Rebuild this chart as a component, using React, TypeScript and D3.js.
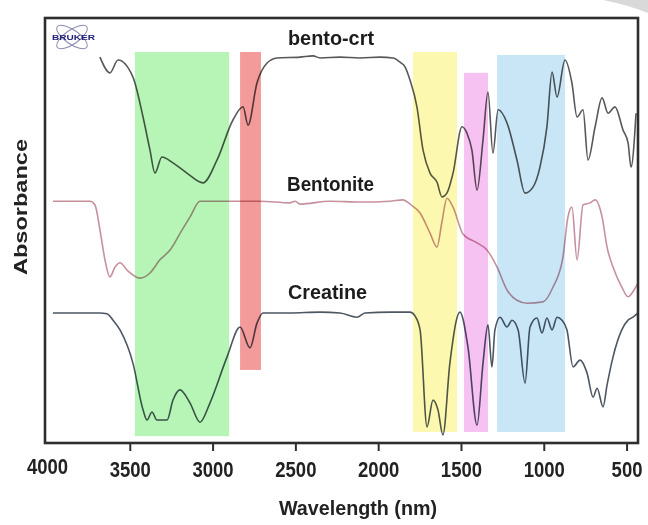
import React from "react";
import * as d3 from "d3";

// ---- data (wavenumber, absorbance in arbitrary stacked units) ----
const bentoCrtWave = [3683,3623,3574,3484,3423,3381,3351,3309,3242,3158,3061,2976,2880,2819,2789,2735,2674,2614,2475,2397,2354,2234,2113,1992,1913,1871,1841,1811,1769,1732,1690,1648,1618,1588,1551,1497,1467,1437,1406,1370,1340,1310,1279,1225,1165,1116,1068,1026,984,953,923,875,833,802,766,736,693,651,615,573,524,494,476,446];
const bentoCrtAbs = [90.8,87.1,90.1,86.1,76.7,68.9,63.5,67.3,65.9,63.5,61.2,66.6,76.0,79.1,74.8,84.7,89.4,90.6,90.8,91.1,90.6,90.8,90.6,90.8,90.6,89.6,88.5,85.4,79.1,68.9,63.5,61.4,57.9,58.8,63.5,74.4,72.9,68.9,59.5,71.3,82.6,68.2,78.4,75.3,66.6,58.8,60.2,64.9,74.4,87.3,81.4,90.1,84.7,76.7,78.4,66.6,74.4,81.2,77.6,79.1,73.6,70.6,64.9,77.6];

const bentoniteWave = [3967,3743,3713,3683,3653,3623,3592,3562,3520,3441,3381,3321,3260,3188,3139,3079,2898,2717,2536,2505,2475,2294,2113,1932,1853,1811,1750,1690,1648,1618,1588,1551,1491,1406,1346,1285,1225,1165,1104,1008,947,887,857,833,802,766,724,693,651,621,585,532,494,458,434];
const bentoniteAbs = [56.9,56.9,56.0,50.1,43.1,39.1,41.4,42.4,40.7,38.8,40.0,43.1,45.4,50.1,53.2,56.9,56.9,56.9,56.5,56.9,56.2,56.9,56.7,56.9,57.2,56.2,54.1,49.4,46.1,52.0,57.6,55.5,49.2,47.1,45.4,41.4,36.0,33.6,32.9,33.2,36.7,43.8,53.2,55.5,43.1,56.0,56.5,57.2,53.2,46.1,41.4,36.7,34.4,36.0,37.6];

const creatineWave = [3967,3804,3683,3641,3604,3562,3484,3423,3399,3369,3339,3278,3242,3200,3139,3079,3019,2916,2837,2777,2735,2699,2536,2354,2234,2131,2083,1932,1811,1781,1750,1708,1672,1642,1612,1570,1509,1461,1406,1370,1340,1316,1298,1267,1225,1195,1158,1116,1086,1044,1014,984,953,923,893,863,826,784,742,705,681,645,621,585,532,494,464,434];
const creatineAbs = [30.6,30.6,30.6,30.4,28.9,26.6,18.8,7.8,5.4,7.3,5.4,5.4,10.1,12.5,9.4,4.9,9.4,20.2,27.3,22.4,28.2,30.6,30.6,30.8,30.6,29.6,30.6,30.8,30.8,29.9,26.6,3.8,10.1,7.8,1.9,18.8,30.8,22.6,4.2,18.8,27.8,17.9,26.6,29.6,27.3,28.9,26.6,14.1,27.3,29.4,25.9,29.4,26.6,29.6,28.9,26.6,17.9,19.5,16.5,10.8,12.9,8.5,13.6,20.2,26.6,28.9,29.6,30.6];

const seriesNames = ["bento-crt", "Bentonite", "Creatine"];
const seriesColors = ["#585858", "#c7909d", "#4d5763"];

// highlighted regions: [from, to] wavenumber, [top, bottom] absorbance
const bandFrom = [3472, 2837, 1793, 1485, 1285];
const bandTo = [2903, 2711, 1527, 1340, 875];
const bandTop = [92.0, 92.0, 92.0, 87.1, 91.3];
const bandBottom = [1.6, 17.2, 2.6, 2.6, 2.6];
const bandColors = ["#b6f5b6", "#f39a9a", "#fdf8b0", "#f6c2f2", "#c9e6f7"];

const xTicks = [4000, 3500, 3000, 2500, 2000, 1500, 1000, 500];

export default function App() {
  const W = 648, H = 525;
  const left = 45, right = 638, top = 18, bottom = 443;
  const x = d3.scaleLinear().domain([4015, 434]).range([left, right]);
  const y = d3.scaleLinear().domain([0, 100]).range([bottom, top]);

  const line = d3
    .line<[number, number]>()
    .x((d) => x(d[0]))
    .y((d) => y(d[1]))
    .curve(d3.curveMonotoneX);

  const series = [
    { w: bentoCrtWave, a: bentoCrtAbs },
    { w: bentoniteWave, a: bentoniteAbs },
    { w: creatineWave, a: creatineAbs },
  ];

  const labelPos = [
    { x: 288, y: 45, len: 86 },
    { x: 287, y: 191, len: 87 },
    { x: 288, y: 299, len: 79 },
  ];

  return (
    <svg
      width={W}
      height={H}
      style={{ position: "absolute", left: 0, top: 0, background: "#fff" }}
      fontFamily="'Liberation Sans', Arial, sans-serif"
    >
      <rect x={0} y={0} width={W} height={H} fill="#fff" />
      {/* page curl in the corner */}
      <path d="M603,0 L648,0 L648,13 Q628,5 603,0 Z" fill="#d9d9d9" />

      {/* spectra */}
      {series.map((s, i) => (
        <path
          key={i}
          d={line(s.w.map((w, j) => [w, s.a[j]] as [number, number])) || ""}
          fill="none"
          stroke={seriesColors[i]}
          strokeWidth={1.6}
          strokeLinejoin="round"
        />
      ))}

      {/* bands, blended over the lines */}
      {bandFrom.map((f, i) => (
        <rect
          key={i}
          x={x(f)}
          y={y(bandTop[i])}
          width={x(bandTo[i]) - x(f)}
          height={y(bandBottom[i]) - y(bandTop[i])}
          fill={bandColors[i]}
          style={{ mixBlendMode: "multiply" }}
        />
      ))}

      {/* frame */}
      <rect
        x={left}
        y={top}
        width={right - left}
        height={bottom - top}
        fill="none"
        stroke="#2e2e2e"
        strokeWidth={2.6}
      />

      {/* x ticks */}
      {xTicks.map((t) => (
        <g key={t}>
          {t !== 4000 && (
            <line x1={x(t)} x2={x(t)} y1={bottom} y2={bottom + 8} stroke="#2e2e2e" strokeWidth={2} />
          )}
          <text
            x={x(t)}
            y={t === 4000 ? 474 : 477}
            textAnchor="middle"
            fontSize={22}
            fontWeight="bold"
            fill="#222"
            textLength={String(t).length * 10.3}
            lengthAdjust="spacingAndGlyphs"
          >
            {t}
          </text>
        </g>
      ))}

      {/* axis titles */}
      <text
        x={358}
        y={515}
        textAnchor="middle"
        fontSize={20}
        fontWeight="bold"
        fill="#222"
        textLength={158}
        lengthAdjust="spacingAndGlyphs"
      >
        Wavelength (nm)
      </text>
      <text
        transform="translate(27,207) rotate(-90)"
        textAnchor="middle"
        fontSize={18}
        fontWeight="bold"
        fill="#222"
        textLength={136}
        lengthAdjust="spacingAndGlyphs"
      >
        Absorbance
      </text>

      {/* curve labels */}
      {seriesNames.map((n, i) => (
        <text
          key={n}
          x={labelPos[i].x}
          y={labelPos[i].y}
          fontSize={21}
          fontWeight="bold"
          fill="#1c1c1c"
          textLength={labelPos[i].len}
          lengthAdjust="spacingAndGlyphs"
        >
          {n}
        </text>
      ))}

      {/* Bruker logo */}
      <g>
        <ellipse cx={72} cy={37} rx={18} ry={7} fill="none" stroke="#8a8ab0" strokeWidth={1} transform="rotate(-35 72 37)" />
        <ellipse cx={72} cy={37} rx={18} ry={7} fill="none" stroke="#8a8ab0" strokeWidth={1} transform="rotate(35 72 37)" />
        <text
          x={52}
          y={40}
          fontSize={7}
          fontWeight="bold"
          fill="#23237a"
          textLength={43}
          lengthAdjust="spacingAndGlyphs"
        >
          BRUKER
        </text>
      </g>
    </svg>
  );
}
